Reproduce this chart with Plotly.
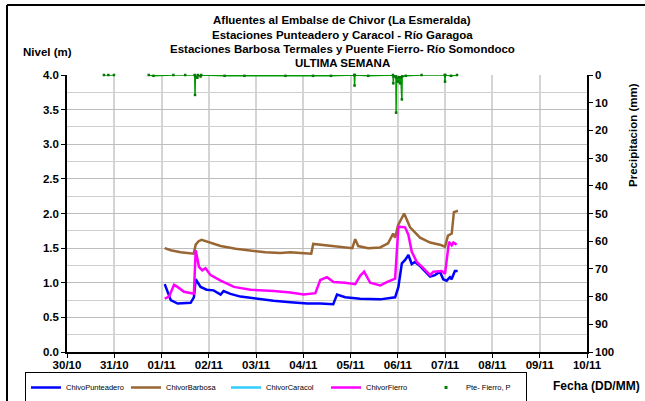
import plotly.graph_objects as go

# ---------------- data ----------------
# River level (m), ChivoPunteadero station
punteadero_t = [
    "2013-11-01 01:36", "2013-11-01 03:10", "2013-11-01 04:40", "2013-11-01 08:10", "2013-11-01 12:15",
    "2013-11-01 14:45", "2013-11-01 16:25", "2013-11-01 17:20", "2013-11-01 19:50", "2013-11-01 22:55",
    "2013-11-02 02:25", "2013-11-02 06:00", "2013-11-02 07:30", "2013-11-02 11:00", "2013-11-02 16:05",
    "2013-11-02 23:40", "2013-11-03 08:50", "2013-11-03 17:25", "2013-11-04 02:00", "2013-11-04 08:35",
    "2013-11-04 15:10", "2013-11-04 17:05", "2013-11-04 21:15", "2013-11-05 04:50", "2013-11-05 15:00",
    "2013-11-05 22:35", "2013-11-06 00:15", "2013-11-06 02:00", "2013-11-06 03:40", "2013-11-06 05:20",
    "2013-11-06 07:00", "2013-11-06 08:40", "2013-11-06 11:15", "2013-11-06 16:20", "2013-11-06 18:50",
    "2013-11-06 21:20", "2013-11-06 23:00", "2013-11-07 00:45", "2013-11-07 02:25", "2013-11-07 03:15",
    "2013-11-07 04:55", "2013-11-07 06:20",
]
punteadero_v = [
    0.98, 0.85, 0.75, 0.70, 0.70,
    0.71, 0.79, 1.05, 0.94, 0.90,
    0.89, 0.83, 0.88, 0.84, 0.80,
    0.77, 0.74, 0.72, 0.70, 0.70,
    0.69, 0.83, 0.79, 0.77, 0.76,
    0.79, 0.94, 1.28, 1.33, 1.40,
    1.27, 1.30, 1.24, 1.09, 1.11,
    1.16, 1.05, 1.03, 1.08, 1.05,
    1.17, 1.17,
]

# River level (m), ChivorBarbosa station
barbosa_t = [
    "2013-11-01 01:36", "2013-11-01 04:40", "2013-11-01 09:40", "2013-11-01 16:20", "2013-11-01 17:20",
    "2013-11-01 18:50", "2013-11-01 20:20", "2013-11-01 22:20", "2013-11-02 01:55", "2013-11-02 06:00",
    "2013-11-02 13:35", "2013-11-02 21:10", "2013-11-03 04:45", "2013-11-03 12:20", "2013-11-03 17:25",
    "2013-11-03 22:30", "2013-11-04 04:00", "2013-11-04 05:00", "2013-11-04 08:35", "2013-11-04 13:40",
    "2013-11-04 21:15", "2013-11-05 00:50", "2013-11-05 02:20", "2013-11-05 03:50", "2013-11-05 08:55",
    "2013-11-05 15:00", "2013-11-05 19:00", "2013-11-05 21:35", "2013-11-05 22:35", "2013-11-06 00:05",
    "2013-11-06 03:10", "2013-11-06 06:10", "2013-11-06 11:15", "2013-11-06 16:20", "2013-11-06 21:20",
    "2013-11-06 23:55", "2013-11-07 01:25", "2013-11-07 03:20", "2013-11-07 04:25", "2013-11-07 06:30",
]
barbosa_v = [
    1.50, 1.47, 1.44, 1.42, 1.55,
    1.60, 1.62, 1.60, 1.57, 1.53,
    1.49, 1.46, 1.44, 1.43, 1.44,
    1.43, 1.42, 1.56, 1.55, 1.54,
    1.52, 1.50, 1.63, 1.53, 1.50,
    1.51, 1.57, 1.71, 1.65, 1.83,
    2.00, 1.80, 1.65, 1.58, 1.55,
    1.52, 1.68, 1.71, 2.02, 2.04,
]

# River level (m), ChivorFierro station
fierro_t = [
    "2013-11-01 01:36", "2013-11-01 03:50", "2013-11-01 06:20", "2013-11-01 08:05", "2013-11-01 11:25",
    "2013-11-01 16:25", "2013-11-01 17:20", "2013-11-01 19:00", "2013-11-01 20:40", "2013-11-01 22:20",
    "2013-11-02 00:55", "2013-11-02 06:00", "2013-11-02 12:45", "2013-11-02 21:10", "2013-11-03 08:55",
    "2013-11-03 17:25", "2013-11-04 00:10", "2013-11-04 06:05", "2013-11-04 08:35", "2013-11-04 12:00",
    "2013-11-04 15:20", "2013-11-04 21:15", "2013-11-05 02:20", "2013-11-05 04:50", "2013-11-05 06:50",
    "2013-11-05 09:55", "2013-11-05 15:00", "2013-11-05 18:20", "2013-11-05 22:35", "2013-11-06 00:15",
    "2013-11-06 03:40", "2013-11-06 05:20", "2013-11-06 07:00", "2013-11-06 09:35", "2013-11-06 12:55",
    "2013-11-06 16:20", "2013-11-06 18:00", "2013-11-06 22:15", "2013-11-06 23:55", "2013-11-07 00:45",
    "2013-11-07 01:55", "2013-11-07 03:20", "2013-11-07 04:10", "2013-11-07 05:50",
]
fierro_v = [
    0.77, 0.80, 0.97, 0.94, 0.87,
    0.84, 1.47, 1.23, 1.18, 1.21,
    1.11, 1.03, 0.94, 0.90, 0.88,
    0.86, 0.83, 0.85, 1.04, 1.08,
    1.01, 1.00, 0.98, 1.10, 1.16,
    1.00, 0.96, 1.01, 1.06, 1.81,
    1.80, 1.69, 1.45, 1.30, 1.21,
    1.11, 1.16, 1.17, 1.13, 1.33,
    1.59, 1.54, 1.58, 1.55,
]

# ChivorCaracol station: no readings in this week
caracol_t = [None]
caracol_v = [None]

# Rainfall (mm), Puente Fierro gauge (None marks a gap in the record)
lluvia_t = [
    "2013-10-30 18:45", "2013-10-30 21:00", "2013-10-30 23:50", "2013-10-31 06:00",
    "2013-10-31 17:30", "2013-10-31 19:55", "2013-11-01 06:00", "2013-11-01 12:00",
    "2013-11-01 16:50", "2013-11-01 17:00", "2013-11-01 17:10", "2013-11-01 18:10",
    "2013-11-01 18:30", "2013-11-01 19:50", "2013-11-01 20:10", "2013-11-02 08:00",
    "2013-11-02 18:05", "2013-11-03 14:55", "2013-11-04 04:55", "2013-11-04 14:00",
    "2013-11-05 01:50", "2013-11-05 02:00", "2013-11-05 02:10", "2013-11-05 08:55",
    "2013-11-05 21:30", "2013-11-05 21:40", "2013-11-05 21:50", "2013-11-05 23:00",
    "2013-11-05 23:05", "2013-11-05 23:15", "2013-11-06 00:00", "2013-11-06 00:30",
    "2013-11-06 01:05", "2013-11-06 01:30", "2013-11-06 02:00", "2013-11-06 02:10",
    "2013-11-06 04:00", "2013-11-06 12:00", "2013-11-06 23:45", "2013-11-06 23:55",
    "2013-11-07 00:05", "2013-11-07 03:00", "2013-11-07 06:00",
]
lluvia_v = [
    0, 0, 0, None,
    0, 0.3, 0, 0,
    0, 7.2, 0.3, 1.0,
    0, 0.5, 0, 0.3,
    0.3, 0.3, 0.3, 0.3,
    0, 3.8, 0, 0.3,
    0, 3.0, 0.5, 0.5,
    13.6, 1.0, 2.4, 0.8,
    3.0, 0.8, 8.8, 0.5,
    0.3, 0, 0, 2.4,
    0, 0.3, 0,
]

fechas = ["2013-10-%02d" % d for d in (30, 31)] + ["2013-11-%02d" % d for d in range(1, 11)]
etiquetas = ["30/10", "31/10"] + ["%02d/11" % d for d in range(1, 11)]
nivel_ticks = [0.0, 0.5, 1.0, 1.5, 2.0, 2.5, 3.0, 3.5, 4.0]
lluvia_ticks = [0, 10, 20, 30, 40, 50, 60, 70, 80, 90, 100]

titulo = ["Afluentes al Embalse de Chivor (La Esmeralda)",
          "Estaciones Punteadero y Caracol - Río Garagoa",
          "Estaciones Barbosa Termales y Puente Fierro- Río Somondoco",
          "ULTIMA SEMANA"]

# ---------------- figure ----------------
FONT = "Liberation Sans"
W, H = 645, 401
L, R, T, B = 67, 58, 75, 49
PW, PH = W - L - R, H - T - B


def px(x):
    """horizontal pixel -> paper fraction"""
    return (x - L) / PW


def py(y):
    """vertical pixel (from top) -> paper fraction"""
    return (H - B - y) / PH


def bold(items, fmt="{}"):
    return ["<b>" + fmt.format(v) + "</b>" for v in items]


fig = go.Figure()

fig.add_trace(go.Scatter(x=punteadero_t, y=punteadero_v, name="ChivoPunteadero",
                         mode="lines", line=dict(color="#0000FF", width=2.5)))
fig.add_trace(go.Scatter(x=barbosa_t, y=barbosa_v, name="ChivorBarbosa",
                         mode="lines", line=dict(color="#996633", width=2.5)))
fig.add_trace(go.Scatter(x=caracol_t, y=caracol_v, name="ChivorCaracol",
                         mode="lines", line=dict(color="#33CCFF", width=2.5)))
fig.add_trace(go.Scatter(x=fierro_t, y=fierro_v, name="ChivorFierro",
                         mode="lines", line=dict(color="#FF00FF", width=2.5)))
# rainfall on the reversed right axis
fig.add_trace(go.Scatter(x=lluvia_t, y=lluvia_v, name="Pte- Fierro, P", yaxis="y2",
                         mode="lines+markers", connectgaps=False, cliponaxis=False,
                         line=dict(color="#009900", width=1.5),
                         marker=dict(color="#007700", size=2.5, symbol="square"),
                         showlegend=False))
fig.add_trace(go.Scatter(x=[None], y=[None], name="Pte- Fierro, P", yaxis="y2",
                         mode="markers", marker=dict(color="#008000", size=3, symbol="square")))

fig.update_layout(
    width=W, height=H,
    margin=dict(l=L, r=R, t=T, b=B, autoexpand=False),
    paper_bgcolor="white", plot_bgcolor="white",
    font=dict(family=FONT, color="black"),
    xaxis=dict(
        type="date", range=["2013-10-30", "2013-11-10"],
        tickvals=fechas, ticktext=bold(etiquetas),
        tickfont=dict(family=FONT, size=11.5), ticklabelstandoff=-3,
        showgrid=True, gridcolor="#D4D4D4", gridwidth=2,
        showline=True, linecolor="black", linewidth=1.5,
        ticks="outside", ticklen=4, tickcolor="black",
        zeroline=False,
    ),
    yaxis=dict(
        range=[0, 4], tickvals=nivel_ticks, ticktext=bold(nivel_ticks, "{:.1f}"),
        tickfont=dict(family=FONT, size=11.5),
        showgrid=True, gridcolor="#BDBDBD", gridwidth=1,
        minor=dict(dtick=0.25, showgrid=True, gridcolor="#CFCFCF", gridwidth=1),
        showline=True, linecolor="black", linewidth=1.5,
        ticks="outside", ticklen=4, tickcolor="black",
        zeroline=False,
    ),
    yaxis2=dict(
        overlaying="y", side="right", range=[100, 0],
        tickvals=lluvia_ticks, ticktext=bold(lluvia_ticks),
        tickfont=dict(family=FONT, size=11.5),
        showgrid=False, zeroline=False,
        showline=True, linecolor="black", linewidth=1.5,
        ticks="outside", ticklen=4, tickcolor="black",
    ),
    legend=dict(
        orientation="h", x=px(25), y=py(372), xanchor="left", yanchor="top",
        bordercolor="black", borderwidth=1, bgcolor="white",
        font=dict(family=FONT, size=7.5),
        entrywidth=55, entrywidthmode="pixels",
        itemwidth=30, tracegroupgap=0,
    ),
    showlegend=True,
)

# chart title, one line per annotation
for linea, yc in zip(titulo, [20, 35, 49, 63]):
    fig.add_annotation(text="<b>" + linea + "</b>", xref="paper", yref="paper",
                       x=px(342), y=py(yc), xanchor="center", yanchor="middle",
                       showarrow=False, font=dict(family=FONT, size=11.5))

# axis titles
fig.add_annotation(text="<b>Nivel (m)</b>", xref="paper", yref="paper", x=px(47), y=py(52),
                   xanchor="center", yanchor="middle",
                   showarrow=False, font=dict(family=FONT, size=11.5))
fig.add_annotation(text="<b>Precipitacion (mm)</b>", xref="paper", yref="paper",
                   x=px(633), y=py(135), xanchor="center", yanchor="middle",
                   textangle=-90, showarrow=False, font=dict(family=FONT, size=11.5))
fig.add_annotation(text="<b>Fecha (DD/MM)</b>", xref="paper", yref="paper",
                   x=px(596), y=py(386), xanchor="center", yanchor="middle",
                   showarrow=False, font=dict(family=FONT, size=12))

# outer chart frame (left and top edges)
fig.add_shape(type="line", xref="paper", yref="paper", x0=px(7), x1=px(7), y0=py(5), y1=py(410),
              line=dict(color="black", width=2))
fig.add_shape(type="line", xref="paper", yref="paper", x0=px(7), x1=px(660), y0=py(5), y1=py(5),
              line=dict(color="black", width=2))

fig.write_html("out.html")
